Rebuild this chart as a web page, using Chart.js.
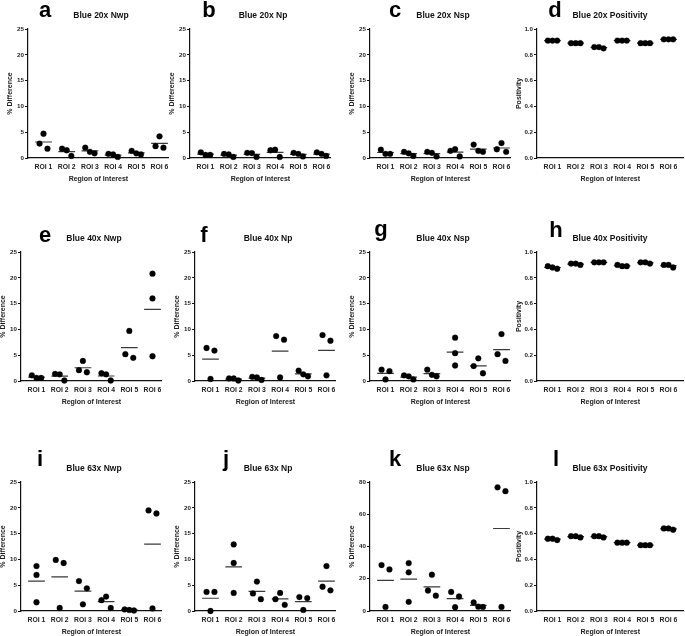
<!DOCTYPE html>
<html>
<head>
<meta charset="utf-8">
<script src="https://cdn.jsdelivr.net/npm/chart.js@4.4.1/dist/chart.umd.min.js"></script>
<style>
  html, body { margin: 0; padding: 0; background: #fff; }
  #fig { position: relative; width: 685px; height: 636px; overflow: hidden; background: #fff;
         font-family: "Liberation Sans", Arial, sans-serif; }
  #fig canvas { position: absolute; }
  .letter, .title { position: absolute; font-weight: bold; transform: translateX(-50%);
                    will-change: transform; white-space: nowrap; -webkit-font-smoothing: antialiased; }
  .letter { font-size: 22px; line-height: 22px; color: #000; }
  .title { font-size: 8.5px; line-height: 10px; color: #111; }
</style>
</head>
<body>
<div id="fig"></div>
<script>
const rois = ['ROI 1', 'ROI 2', 'ROI 3', 'ROI 4', 'ROI 5', 'ROI 6'];

// three replicates per ROI, listed left to right as they sit in the plot
const blue20Nwp = [[2.8, 4.7, 1.8], [1.8, 1.5, 0.4], [2.0, 1.2, 0.9], [0.8, 0.7, 0.2], [1.4, 0.9, 0.7], [2.3, 4.2, 2.0]];
const blue20Np = [[1.1, 0.6, 0.6], [0.8, 0.7, 0.2], [1.0, 0.95, 0.2], [1.5, 1.6, 0.2], [1.0, 0.8, 0.3], [1.1, 0.8, 0.4]];
const blue20Nsp = [[1.6, 0.8, 0.8], [1.2, 0.9, 0.4], [1.2, 1.0, 0.3], [1.4, 1.7, 0.3], [2.6, 1.4, 1.2], [1.7, 2.9, 1.2]];
const blue20Pos = [[0.91, 0.91, 0.91], [0.89, 0.89, 0.89], [0.86, 0.86, 0.85], [0.91, 0.91, 0.91], [0.89, 0.89, 0.89], [0.92, 0.92, 0.92]];

const blue40Nwp = [[1.1, 0.6, 0.6], [1.4, 1.3, 0.1], [2.1, 3.9, 1.7], [1.5, 1.3, 0.1], [5.2, 9.7, 4.5], [20.8, 16.0, 4.8]];
const blue40Np = [[6.4, 0.4, 5.9], [0.5, 0.5, 0.1], [0.8, 0.7, 0.2], [8.7, 0.7, 8.0], [2.0, 1.3, 0.9], [8.9, 1.1, 7.8]];
const blue40Nsp = [[2.2, 0.3, 1.9], [1.1, 0.9, 0.3], [2.2, 1.2, 0.9], [8.4, 5.4, 3.0], [2.9, 4.4, 1.5], [5.2, 9.1, 3.9]];
const blue40Pos = [[0.89, 0.88, 0.87], [0.91, 0.91, 0.90], [0.92, 0.92, 0.92], [0.90, 0.89, 0.89], [0.92, 0.92, 0.91], [0.90, 0.90, 0.88]];

const blue63Nwp = [[8.7, 7.0, 1.7], [9.9, 0.6, 9.3], [5.8, 1.3, 4.4], [2.1, 2.8, 0.6], [0.3, 0.2, 0.1], [19.5, 0.5, 18.9]];
const blue63Np = [[3.7, 0.0, 3.7], [12.9, 9.3, 3.5], [3.4, 5.7, 2.3], [2.3, 3.5, 1.2], [2.7, 0.2, 2.5], [4.7, 8.7, 4.0]];
const blue63Nsp = [[28.5, 2.5, 25.8], [29.7, 24.0, 5.7], [12.7, 22.5, 9.5], [11.8, 2.4, 9.0], [5.3, 2.7, 2.5], [76.7, 2.5, 74.3]];
const blue63Pos = [[0.56, 0.56, 0.55], [0.58, 0.58, 0.57], [0.58, 0.58, 0.57], [0.53, 0.53, 0.53], [0.51, 0.51, 0.51], [0.64, 0.64, 0.63]];

const diffTicks = [0, 5, 10, 15, 20, 25];
const nspTicks63 = [0, 20, 40, 60, 80];
const posTicks = [0, 0.2, 0.4, 0.6, 0.8, 1.0];

// layout
const PLOT_H = 129;
const CAT_W = 23.2;
const YW = 24, PAD_T = 6, XH = 27, PAD_R = 12;
const FONT = '"Liberation Sans", Arial, sans-serif';
const INK = '#222';

const panels = [
  { key: 'a', title: 'Blue 20x Nwp', vals: blue20Nwp, ticks: diffTicks, yTitle: '% Difference', ax: 27.5, ty: 28.5, lx: 45, lb: 18, tb: 17.5 },
  { key: 'b', title: 'Blue 20x Np', vals: blue20Np, ticks: diffTicks, yTitle: '% Difference', ax: 190, ty: 29, lx: 208.5, lb: 18, tb: 17.5 },
  { key: 'c', title: 'Blue 20x Nsp', vals: blue20Nsp, ticks: diffTicks, yTitle: '% Difference', ax: 370, ty: 29, lx: 395, lb: 18, tb: 17.5 },
  { key: 'd', title: 'Blue 20x Positivity', vals: blue20Pos, ticks: posTicks, yTitle: 'Positivity', ax: 537, ty: 28.5, lx: 555, lb: 18, tb: 17.5, wide: true },
  { key: 'e', title: 'Blue 40x Nwp', vals: blue40Nwp, ticks: diffTicks, yTitle: '% Difference', ax: 21, ty: 251.5, lx: 45, lb: 243, tb: 241 },
  { key: 'f', title: 'Blue 40x Np', vals: blue40Np, ticks: diffTicks, yTitle: '% Difference', ax: 195, ty: 251.5, lx: 204, lb: 243, tb: 241 },
  { key: 'g', title: 'Blue 40x Nsp', vals: blue40Nsp, ticks: diffTicks, yTitle: '% Difference', ax: 370, ty: 251.5, lx: 381, lb: 237, tb: 241 },
  { key: 'h', title: 'Blue 40x Positivity', vals: blue40Pos, ticks: posTicks, yTitle: 'Positivity', ax: 537, ty: 251.5, lx: 555.5, lb: 238, tb: 241, wide: true },
  { key: 'i', title: 'Blue 63x Nwp', vals: blue63Nwp, ticks: diffTicks, yTitle: '% Difference', ax: 21, ty: 481.5, lx: 40, lb: 467, tb: 471 },
  { key: 'j', title: 'Blue 63x Np', vals: blue63Np, ticks: diffTicks, yTitle: '% Difference', ax: 195, ty: 481.5, lx: 226, lb: 467, tb: 471 },
  { key: 'k', title: 'Blue 63x Nsp', vals: blue63Nsp, ticks: nspTicks63, yTitle: '% Difference', ax: 370, ty: 481.5, lx: 395, lb: 467, tb: 471 },
  { key: 'l', title: 'Blue 63x Positivity', vals: blue63Pos, ticks: posTicks, yTitle: 'Positivity', ax: 537, ty: 481.5, lx: 555.5, lb: 467, tb: 471, wide: true }
];

// spread overlapping dots sideways, roughly like a column scatter plot does
function spread(vals, yMax) {
  const thr = 8 / PLOT_H * yMax;
  const order = vals.map((v, i) => i).sort((p, q) => vals[p] - vals[q]);
  const group = [];
  let g = 0;
  order.forEach((k, n) => {
    if (n > 0 && vals[k] - vals[order[n - 1]] >= thr) g++;
    group[k] = g;
  });
  const members = {};
  vals.forEach((v, i) => (members[group[i]] = members[group[i]] || []).push(i));
  const off = vals.map(() => 0);
  Object.values(members).forEach(m => {
    if (m.length === 2) { off[m[0]] = -0.17; off[m[1]] = 0.17; }
    else if (m.length > 2) m.forEach((k, j) => { off[k] = (j - (m.length - 1) / 2) * 0.2; });
  });
  return off;
}

const fig = document.getElementById('fig');

function addText(cls, text, x, top) {
  const el = document.createElement('div');
  el.className = cls;
  el.textContent = text;
  el.style.left = x + 'px';
  el.style.top = top + 'px';
  fig.appendChild(el);
}

panels.forEach(p => {
  const yMax = p.ticks[p.ticks.length - 1];
  const xMin = 1 - 15.5 / CAT_W;
  const xMax = p.wide ? 6.65 : 6.4;
  const plotW = (xMax - xMin) * CAT_W;
  const w = Math.round(YW + plotW + PAD_R);
  const h = PAD_T + PLOT_H + XH;

  const canvas = document.createElement('canvas');
  canvas.width = w;
  canvas.height = h;
  canvas.style.width = w + 'px';
  canvas.style.height = h + 'px';
  canvas.style.left = (p.ax - YW) + 'px';
  canvas.style.top = (p.ty - PAD_T) + 'px';
  fig.appendChild(canvas);

  const dots = [];
  const means = [];
  p.vals.forEach((reps, i) => {
    const off = spread(reps, yMax);
    reps.forEach((v, j) => dots.push({ x: i + 1 + off[j], y: v }));
    const m = reps.reduce((s, v) => s + v, 0) / reps.length;
    means.push({ x: i + 1 - 0.36, y: m }, { x: i + 1 + 0.36, y: m }, { x: i + 1.5, y: null });
  });

  new Chart(canvas, {
    type: 'scatter',
    data: {
      datasets: [
        { data: means, showLine: true, spanGaps: false, borderColor: '#3a3a3a', borderWidth: 1.2,
          pointRadius: 0, clip: false, order: 1 },
        { data: dots, backgroundColor: '#000', borderColor: '#000', pointRadius: 2.9,
          pointBorderWidth: 0.3, clip: false, order: 0 }
      ]
    },
    options: {
      responsive: false,
      animation: false,
      layout: { padding: { top: PAD_T, right: w - YW - plotW, bottom: 0, left: 0 } },
      plugins: { legend: { display: false }, tooltip: { enabled: false } },
      scales: {
        x: {
          type: 'linear', min: xMin, max: xMax,
          afterFit: s => { s.height = XH; },
          afterBuildTicks: s => { s.ticks = rois.map((r, i) => ({ value: i + 1 })); },
          grid: { display: false, drawTicks: false },
          border: { color: '#111', width: 1.2 },
          ticks: { callback: (v, i) => rois[i], font: { family: FONT, size: 6.8, weight: 'bold' },
                   color: INK, padding: 5, maxRotation: 0, autoSkip: false },
          title: { display: true, text: 'Region of Interest', color: INK,
                   font: { family: FONT, size: 7, weight: 'bold' }, padding: { top: 0, bottom: 1.3 } }
        },
        y: {
          min: 0, max: yMax,
          afterFit: s => { s.width = YW; },
          afterBuildTicks: s => { s.ticks = p.ticks.map(v => ({ value: v })); },
          grid: { display: true, drawOnChartArea: false, drawTicks: true, tickLength: 3, color: '#111', lineWidth: 1 },
          border: { color: '#111', width: 1.2 },
          ticks: { callback: v => (p.wide ? v.toFixed(1) : String(v)), font: { family: FONT, size: 6.2, weight: 'bold' },
                   color: INK, padding: 1 },
          title: { display: true, text: p.yTitle, color: INK,
                   font: { family: FONT, size: 7, weight: 'bold' }, padding: { top: 1.8, bottom: 0 } }
        }
      }
    }
  });

  addText('letter', p.key, p.lx, p.lb - 18.6);
  addText('title', p.title, p.ax + 73, p.tb - 7.9);
});
</script>
</body>
</html>
